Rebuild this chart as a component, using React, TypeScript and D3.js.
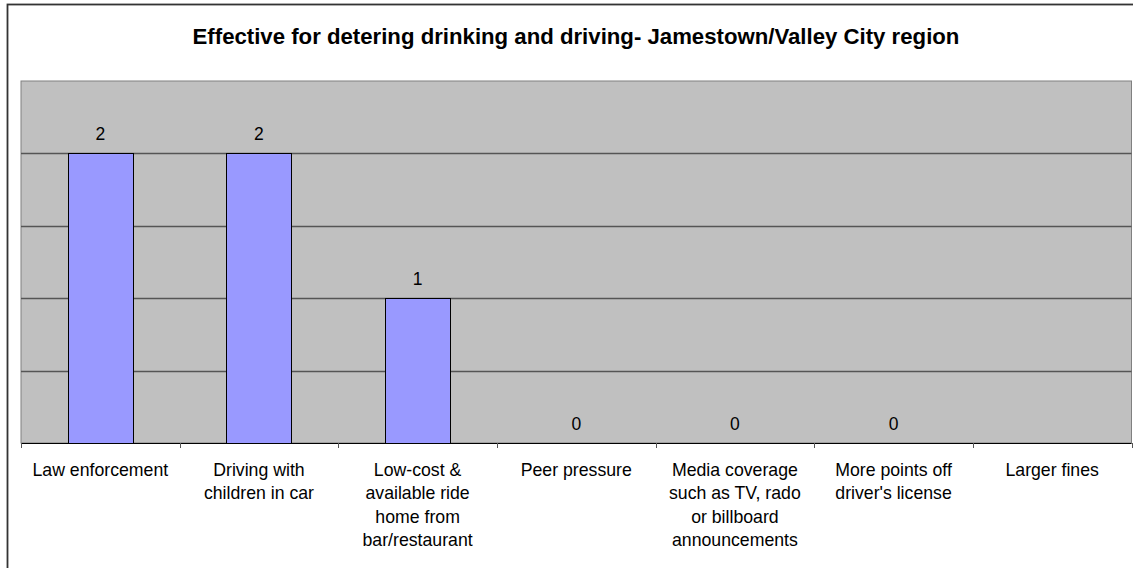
import React from "react";
import * as d3 from "d3";

const title = "Effective for detering drinking and driving- Jamestown/Valley City region";
const categories: string[][] = [
  ["Law enforcement"],
  ["Driving with", "children in car"],
  ["Low-cost &", "available ride", "home from", "bar/restaurant"],
  ["Peer pressure"],
  ["Media coverage", "such as TV, rado", "or billboard", "announcements"],
  ["More points off", "driver's license"],
  ["Larger fines"],
];
const values: (number | null)[] = [2, 2, 1, 0, 0, 0, null];
const yTicks = [0.5, 1, 1.5, 2];
const yMax = 2.5;

const W = 1133;
const H = 568;
const plot = { left: 21, right: 1131.5, top: 81, bottom: 443 };
const FONT = "'Liberation Sans', Arial, sans-serif";

export default function App() {
  const keys = categories.map((_, i) => String(i));
  const x = d3
    .scaleBand<string>()
    .domain(keys)
    .range([plot.left, plot.right])
    .paddingInner(0.59)
    .paddingOuter(0.295);
  const xb = d3.scaleBand<string>().domain(keys).range([plot.left, plot.right]);
  const y = d3.scaleLinear().domain([0, yMax]).range([plot.bottom, plot.top]);

  return (
    <svg
      width={W}
      height={H}
      style={{ position: "absolute", left: 0, top: 0, display: "block" }}
      fontFamily={FONT}
    >
      <rect x={0} y={0} width={W} height={H} fill="#fff" />
      <rect x={7.5} y={4.5} width={1140} height={575} fill="#fff" stroke="#333" strokeWidth={1.8} />
      <text x={576} y={44} textAnchor="middle" fontWeight="bold" fontSize={22.2} fill="#000">
        {title}
      </text>
      <rect
        x={plot.left}
        y={plot.top}
        width={plot.right - plot.left}
        height={plot.bottom - plot.top}
        fill="#C0C0C0"
        stroke="#808080"
        strokeWidth={1}
      />
      {yTicks.map((t) => (
        <line
          key={t}
          x1={plot.left}
          x2={plot.right}
          y1={Math.round(y(t)) + 0.5}
          y2={Math.round(y(t)) + 0.5}
          stroke="#555"
          strokeWidth={1.3}
        />
      ))}
      {values.map((v, i) =>
        v && v > 0 ? (
          <rect
            key={i}
            x={Math.round(x(String(i))!) + 0.5}
            y={Math.round(y(v)) + 0.5}
            width={Math.round(x.bandwidth())}
            height={Math.round(y(0)) - Math.round(y(v))}
            fill="#9999FF"
            stroke="#000"
            strokeWidth={1}
          />
        ) : null
      )}
      <line x1={plot.left} x2={plot.right} y1={443.5} y2={443.5} stroke="#000" strokeWidth={1} />
      {d3.range(categories.length + 1).map((i) => {
        const px = Math.round(plot.left + i * xb.bandwidth()) + 0.5;
        return <line key={i} x1={px} x2={px} y1={443} y2={448} stroke="#555" strokeWidth={1} />;
      })}
      {values.map((v, i) =>
        v === null ? null : (
          <text
            key={i}
            x={xb(String(i))! + xb.bandwidth() / 2}
            y={y(v) - 13}
            textAnchor="middle"
            fontSize={17.5}
            fill="#000"
          >
            {v}
          </text>
        )
      )}
      {categories.map((lines, i) => (
        <text
          key={i}
          x={xb(String(i))! + xb.bandwidth() / 2}
          y={476}
          textAnchor="middle"
          fontSize={17.7}
          fill="#000"
        >
          {lines.map((l, j) => (
            <tspan key={j} x={xb(String(i))! + xb.bandwidth() / 2} y={476 + j * 23.4}>
              {l}
            </tspan>
          ))}
        </text>
      ))}
    </svg>
  );
}
